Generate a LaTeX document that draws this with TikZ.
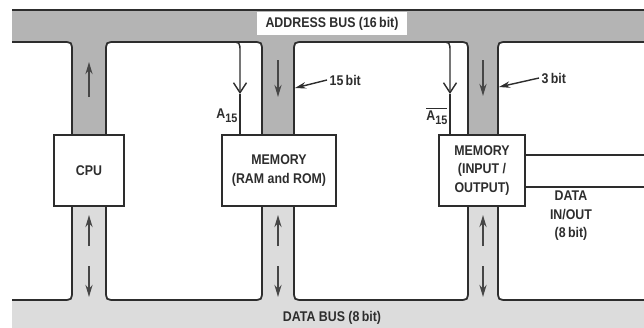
\documentclass[tikz,border=0pt]{standalone}
\usepackage{fontspec}
\setmainfont{Liberation Sans}[FakeStretch=0.88]
\usetikzlibrary{arrows.meta, positioning}
\definecolor{addrgrey}{RGB}{180,180,180}
\definecolor{datagrey}{RGB}{220,220,220}
\definecolor{inkgrey}{RGB}{45,45,45}
\definecolor{flowgrey}{RGB}{70,70,70}

\begin{document}
\begin{tikzpicture}[x=0.2mm, y=-0.2mm, >=Stealth, line width=1pt, inkgrey,
    font=\bfseries\fontsize{8}{10.3}\selectfont,
    unit/.style={draw=inkgrey, fill=white, align=center, minimum height=14.2mm, inner sep=0pt},
    flow/.style={flowgrey, line width=1.6pt, -{Stealth[length=2.4mm, width=1.4mm]}},
    pointer/.style={line width=0.8pt, -{Stealth[length=2.2mm, width=1.3mm]}},
    select/.style={line width=0.8pt, -{Straight Barb[length=2mm, width=2.6mm]}}]
    \useasboundingbox (0,0) rectangle (644,328);
    % Address bus
    \fill[addrgrey] (12,10) -- (644,10) -- (644,42) -- (508,42) .. controls (498,42) .. (498,52)
      -- (498,135) -- (468,135) -- (468,52) .. controls (468,42) .. (458,42)
      -- (304,42) .. controls (294,42) .. (294,52) -- (294,135) -- (262,135)
      -- (262,52) .. controls (262,42) .. (252,42) -- (116,42) .. controls (106,42) .. (106,52)
      -- (106,135) -- (72,135) -- (72,52) .. controls (72,42) .. (62,42) -- (12,42) -- cycle;
    \draw (12,10) -- (644,10);
    \draw (12,42) -- (62,42) .. controls (72,42) .. (72,52) -- (72,135);
    \draw (106,135) -- (106,52) .. controls (106,42) .. (116,42) -- (252,42) .. controls (262,42) .. (262,52) -- (262,135);
    \draw (294,135) -- (294,52) .. controls (294,42) .. (304,42) -- (458,42) .. controls (468,42) .. (468,52) -- (468,135);
    \draw (498,135) -- (498,52) .. controls (498,42) .. (508,42) -- (644,42);
    \node[fill=white, minimum width=30mm, minimum height=4.6mm, inner sep=0pt] (abus) at (332,23.5) {ADDRESS BUS (16\,bit)};
    % Data bus
    \fill[datagrey] (12,328) -- (12,300) -- (62,300) .. controls (72,300) .. (72,290) -- (72,206)
      -- (106,206) -- (106,290) .. controls (106,300) .. (116,300) -- (252,300) .. controls (262,300) .. (262,290)
      -- (262,206) -- (294,206) -- (294,290) .. controls (294,300) .. (304,300) -- (458,300) .. controls (468,300) .. (468,290)
      -- (468,206) -- (498,206) -- (498,290) .. controls (498,300) .. (508,300) -- (644,300) -- (644,328) -- cycle;
    \draw (12,300) -- (62,300) .. controls (72,300) .. (72,290) -- (72,206);
    \draw (106,206) -- (106,290) .. controls (106,300) .. (116,300) -- (252,300) .. controls (262,300) .. (262,290) -- (262,206);
    \draw (294,206) -- (294,290) .. controls (294,300) .. (304,300) -- (458,300) .. controls (468,300) .. (468,290) -- (468,206);
    \draw (498,206) -- (498,290) .. controls (498,300) .. (508,300) -- (644,300);
    \node (dbus) at (332,318) {DATA BUS (8\,bit)};
    % Units
    \node[unit, minimum width=14mm] (cpu) at (89,170.5) {CPU};
    \node[unit, minimum width=22.8mm] (mem) at (279,170.5) {MEMORY\\(RAM and ROM)};
    \node[unit, minimum width=17.2mm] (io) at (482,170.5) {MEMORY\\(INPUT /\\OUTPUT)};
    % Chip select lines
    \coordinate (a15) at (240,94);
    \coordinate (a15n) at (450,94);
    \draw[select] (230,42) .. controls (240,42) .. (240,52) -- (a15);
    \draw (a15) -- (a15 |- mem.north);
    \draw[select] (440,42) .. controls (450,42) .. (450,52) -- (a15n);
    \draw (a15n) -- (a15n |- io.north);
    \node[left=0pt of a15, yshift=-4.4mm, inner sep=1pt] (a15lbl) {A\raisebox{-0.5ex}{\fontsize{7}{7}\selectfont 15}};
    \node[left=0pt of a15n, yshift=-4.4mm, inner sep=1pt] (a15nlbl) {$\overline{\hbox{A\raisebox{-0.5ex}{\fontsize{7}{7}\selectfont 15}}}$};
    % Data in/out
    \draw (io.east |- 0,155) -- (644,155);
    \draw (io.east |- 0,187) -- (644,187);
    \node[align=center, font=\bfseries\fontsize{8}{10.5}\selectfont] (dio) at (571,216) {DATA\\IN/OUT\\(8\,bit)};
    % Bit widths
    \node[anchor=west, inner sep=1pt] (w15) at (327,80) {15\,bit};
    \node[anchor=west, inner sep=1pt] (w3) at (539,78) {3\,bit};
    \coordinate (m15) at (295,88);
    \coordinate (m3) at (499,87);
    \draw[pointer] (w15.west) -- (m15);
    \draw[pointer] (w3.west) -- (m3);
    % Flow arrows
    \draw[flow] (89,97) -- (89,62);
    \draw[flow] (278,60) -- (278,97);
    \draw[flow] (483,60) -- (483,96);
    \foreach \x in {89,278,483}{
      \draw[flow] (\x,246) -- (\x,215);
      \draw[flow] (\x,266) -- (\x,297);
    }
\end{tikzpicture}
\end{document}
